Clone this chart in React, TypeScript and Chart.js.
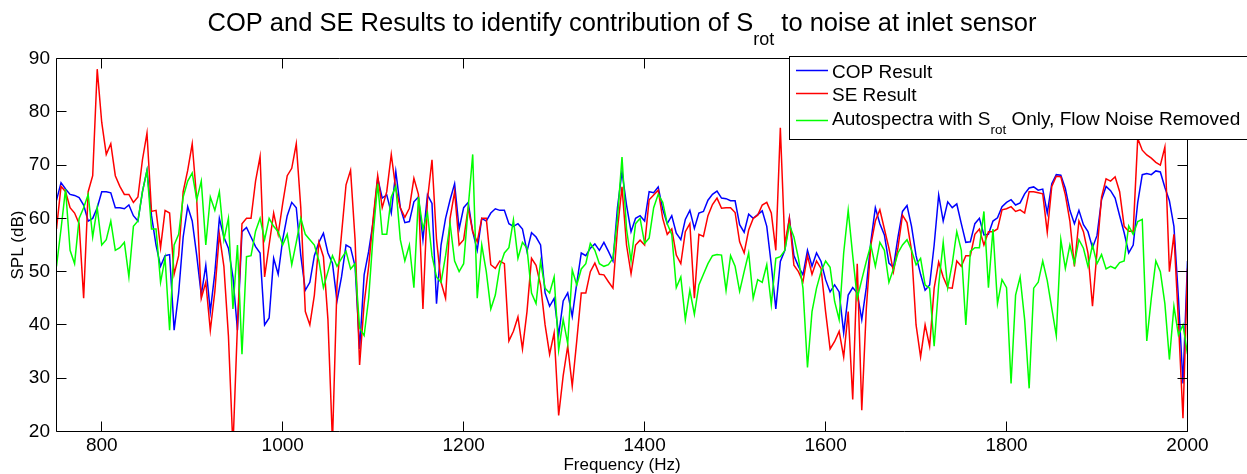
import React, { useEffect, useRef } from "react";
import { Chart, registerables } from "chart.js";

Chart.register(...registerables);

// Frequency sampling of the spectra (Hz)
const FREQ_START = 750;
const FREQ_STEP = 5;

// SPL (dB), one value every 5 Hz from 750 to 2000 Hz
const copResult = [
  63.4, 66.7, 65.5, 64.5, 64.3, 63.9, 62.5, 59.5, 60.0, 62.0,
  65.0, 65.0, 64.8, 62.0, 62.0, 61.8, 62.5, 60.5, 59.5, 65.0,
  69.0, 60.5, 55.0, 51.0, 53.0, 53.2, 39.0, 46.0, 56.5, 62.2,
  59.5, 53.0, 45.6, 51.2, 42.5, 49.8, 60.0, 56.5, 54.4, 49.0,
  39.0, 57.5, 58.3, 56.5, 54.7, 53.5, 40.0, 41.3, 52.5, 49.5,
  56.0, 60.5, 63.0, 62.0, 53.0, 46.5, 48.0, 53.0, 55.5, 57.2,
  53.5, 51.6, 44.5, 49.0, 55.0, 54.5, 51.0, 35.5, 49.4, 53.8,
  59.4, 67.5, 63.8, 64.4, 61.0, 68.8, 62.0, 59.2, 59.4, 63.1,
  64.0, 56.0, 64.4, 62.8, 44.0, 55.0, 60.0, 63.5, 66.5, 58.0,
  62.0, 63.0, 57.5, 54.0, 60.0, 59.5, 61.0, 61.8, 61.5, 61.5,
  59.0, 58.5, 59.0, 58.0, 53.8, 57.3, 56.5, 55.0, 46.0, 43.5,
  45.0, 38.1, 44.5, 46.0, 41.6, 47.8, 53.5, 53.0, 54.4, 55.2,
  54.0, 55.5, 53.8, 52.0, 62.0, 68.8, 62.5, 57.5, 60.0, 60.5,
  59.5, 65.0, 64.8, 65.9, 61.7, 59.0, 60.5, 57.2, 56.0, 59.8,
  61.5, 58.1, 61.0, 61.3, 63.4, 64.5, 65.1, 63.8, 63.7, 63.3,
  63.3, 58.8, 57.4, 60.8, 60.0, 60.7, 61.4, 58.5, 51.3, 43.0,
  51.9, 54.0, 60.0, 53.0, 51.0, 49.4, 54.0, 51.0, 53.5, 51.9,
  48.5, 46.2, 47.5, 46.2, 38.5, 45.6, 47.0, 46.0, 41.0, 47.0,
  55.6, 62.0, 59.0, 56.9, 51.6, 50.8, 56.5, 61.3, 62.4, 58.5,
  53.0, 49.5, 46.5, 47.5, 55.0, 64.4, 59.5, 63.1, 62.0, 62.7,
  59.0, 55.5, 55.6, 59.0, 60.0, 56.9, 57.0, 59.5, 60.1, 62.2,
  63.0, 63.5, 62.5, 62.9, 64.6, 65.7, 65.9, 65.3, 65.5, 61.0,
  66.5, 68.2, 68.1, 65.6, 61.5, 59.0, 61.5, 58.8, 57.5, 54.5,
  56.8, 63.5, 66.0, 65.2, 63.8, 60.5, 57.3, 53.5, 55.0, 63.0,
  68.2, 68.4, 68.2, 68.9, 68.7, 65.8, 63.3, 58.5, 45.0, 29.0,
  52.0,
];

const seResult = [
  58, 66, 65, 62, 61, 59, 45, 65, 68, 88,
  78, 72, 74, 68, 66, 64.5, 64.5, 63, 64, 71,
  76, 61.3, 61.5, 54.5, 61.5, 61, 49.5, 53, 65, 69,
  74, 63.5, 45, 48, 39, 46.3, 57, 51, 38, 17,
  40, 59, 60, 60, 67, 71.6, 49, 55, 61, 57,
  62.8, 68, 69.4, 74, 62, 42.5, 40, 45.6, 55.5, 52.8,
  41, 18, 47.5, 57, 66.3, 69, 56, 32.5, 44, 51,
  60, 68, 62, 65, 72, 65.5, 62, 60.2, 61.9, 67.5,
  64.5, 43, 63.5, 71, 56, 48, 45, 60, 65, 55,
  56, 62, 57.5, 55.6, 60, 60, 51.3, 50.6, 52, 51.5,
  37, 38.8, 41.5, 35.5, 42.5, 52.5, 51.2, 47.5, 40, 34.5,
  38.5, 23, 30.5, 36, 28.5, 37, 46, 46, 50, 51.6,
  49.5, 49.4, 48.1, 46.9, 58, 65.9, 55, 49.6, 55, 55.9,
  55, 63.5, 64.4, 65.3, 60, 57, 58, 53.1, 51.5, 57.5,
  59, 45, 57, 56.6, 60.5, 62.6, 63.8, 61.9, 62, 62,
  61.1, 55.6, 53.5, 57.8, 60, 60.6, 62.5, 63, 61, 54,
  77, 55, 60, 51.2, 50, 48.1, 53, 49.5, 52, 50.6,
  42.5, 35.5, 36.9, 38.8, 34, 42.5, 26, 51.5, 24, 43,
  55, 59.5, 61.6, 58, 54.4, 50, 54.5, 60.6, 59.2, 54,
  40, 34, 40, 36, 46.9, 51.8, 49, 47, 46.9, 52,
  51, 53, 53, 57, 58, 55, 57.5, 57.5, 58, 61.6,
  61.8, 62.2, 61.3, 61.6, 61, 65, 65, 64.8, 64.6, 57.4,
  66, 67.9, 67.8, 64.4, 59.5, 51, 59.5, 57.5, 53.5, 43.5,
  53.8, 64, 67.4, 67, 67.8, 65, 58.5, 57.6, 57.6, 75,
  72.8, 71.9, 71.3, 70.5, 70, 73.4, 50, 57, 40.6, 22.5,
  50.6,
];

const autospectra = [
  51, 58, 65.5, 54, 51.5, 60, 62, 64.5, 56.5, 62,
  55, 56, 59.5, 54, 54.5, 55.5, 49, 58.5, 59.5, 65,
  69, 58, 58, 48, 52.5, 39, 55, 57, 64, 67,
  68.5, 63.5, 67, 55, 64, 61.5, 65, 56, 60, 43,
  55, 34.5, 52.8, 53, 57.6, 60, 56, 60, 58.5, 57.5,
  55, 57, 51.3, 55.5, 60, 57, 56, 55, 52, 47,
  50, 53, 51, 52.5, 53.8, 50.5, 51.5, 39.4, 38, 45,
  57, 66.5, 57, 57, 64, 66, 56, 52, 55, 47,
  64, 58, 61, 53, 49, 48, 53, 59, 52, 50,
  51.5, 62, 72, 45, 55, 50, 43, 45.6, 51, 53.5,
  54.5, 59.7, 52.5, 55.5, 54.4, 46, 44, 51.9, 46.9, 46,
  49, 35.3, 41, 36.5, 50.3, 47.5, 50.5, 51.5, 55.3, 54,
  51.5, 51, 51.3, 52.5, 60, 71.5, 58, 52, 59, 60,
  55.3, 56.3, 62, 64.5, 63, 59, 57, 47, 49, 41,
  46.5, 42, 47.5, 49.5, 51.5, 53, 53.2, 53.1, 46.5, 53,
  51, 46.3, 50, 53.5, 45, 48.5, 48, 51.3, 43.8, 52.5,
  52.8, 54, 58.8, 56.5, 52.5, 46.9, 32, 42.5, 46.9, 50,
  52, 50.8, 44.4, 41, 53.5, 61.5, 53, 45, 48.5, 51.9,
  55, 51, 55.5, 54, 48, 50.5, 53.5, 55, 56, 54,
  51.3, 52.5, 47.5, 46.9, 36, 47.5, 55.5, 47, 51.5, 57.5,
  54, 40, 53.8, 54.5, 54.5, 61.3, 47, 58, 44, 48.5,
  47, 29, 45.6, 49, 41, 28.1, 46.9, 48, 52, 48.3,
  43.1, 38, 56, 50.6, 55, 51.5, 56, 54.4, 51, 55,
  51.5, 53.2, 50.5, 51, 50.6, 51.7, 52, 58.6, 57, 59.4,
  59.8, 37, 45, 52, 50, 44, 33.5, 43.5, 38.1, 40,
  34.5,
];

const xTickValues = [800, 1000, 1200, 1400, 1600, 1800, 2000];
const yTickValues = [20, 30, 40, 50, 60, 70, 80, 90];

const titleMain = "COP and SE Results to identify contribution of S";
const titleSub = "rot";
const titleTail = " to noise at inlet sensor";
const xAxisLabel = "Frequency (Hz)";
const yAxisLabel = "SPL (dB)";

const seriesNames = ["COP Result", "SE Result", "Autospectra with S"];
const legendSub = "rot";
const legendTail = " Only, Flow Noise Removed";
const seriesColors = ["#0000ff", "#ff0000", "#00ff00"];

const FONT = "'Liberation Sans', Arial, Helvetica, sans-serif";
const TICK_LEN = 10;

const decorPlugin = {
  id: "matlabDecor",
  beforeDraw(chart: any) {
    const { ctx, width, height } = chart;
    ctx.save();
    ctx.fillStyle = "#ffffff";
    ctx.fillRect(0, 0, width, height);
    ctx.restore();
  },
  afterDatasetsDraw(chart: any) {
    const { ctx, chartArea: a, scales } = chart;
    ctx.save();
    ctx.strokeStyle = "#000000";
    ctx.lineWidth = 1;
    ctx.beginPath();
    const L = Math.floor(a.left) + 0.5;
    const R = Math.floor(a.right) + 0.5;
    const T = Math.floor(a.top) + 0.5;
    const B = Math.floor(a.bottom) + 0.5;
    ctx.rect(L, T, R - L, B - T);
    for (const v of xTickValues) {
      const px = Math.floor(scales.x.getPixelForValue(v)) + 0.5;
      ctx.moveTo(px, B);
      ctx.lineTo(px, B - TICK_LEN);
      ctx.moveTo(px, T);
      ctx.lineTo(px, T + TICK_LEN);
    }
    for (const v of yTickValues) {
      const py = Math.floor(scales.y.getPixelForValue(v)) + 0.5;
      ctx.moveTo(L, py);
      ctx.lineTo(L + TICK_LEN, py);
      ctx.moveTo(R, py);
      ctx.lineTo(R - TICK_LEN, py);
    }
    ctx.stroke();
    ctx.restore();
  },
  afterDraw(chart: any) {
    const { ctx, chartArea: a } = chart;
    ctx.save();
    ctx.fillStyle = "#000000";
    ctx.textBaseline = "alphabetic";
    ctx.textAlign = "left";

    // Title with subscript
    const mainFont = `25.5px ${FONT}`;
    const subFont = `18px ${FONT}`;
    ctx.font = mainFont;
    const w1 = ctx.measureText(titleMain).width;
    const w3 = ctx.measureText(titleTail).width;
    ctx.font = subFont;
    const w2 = ctx.measureText(titleSub).width;
    const cx = (a.left + a.right) / 2;
    const x0 = cx - (w1 + w2 + w3) / 2;
    ctx.font = mainFont;
    ctx.fillText(titleMain, x0, 31);
    ctx.font = subFont;
    ctx.fillText(titleSub, x0 + w1, 45);
    ctx.font = mainFont;
    ctx.fillText(titleTail, x0 + w1 + w2, 31);

    // Axis labels
    ctx.font = `17px ${FONT}`;
    ctx.textAlign = "center";
    ctx.textBaseline = "middle";
    ctx.fillText(xAxisLabel, cx, 465);
    ctx.save();
    ctx.translate(18, (a.top + a.bottom) / 2);
    ctx.rotate(-Math.PI / 2);
    ctx.fillText(yAxisLabel, 0, 0);
    ctx.restore();

    // Legend box (MATLAB-style, opaque, over the axes)
    ctx.fillStyle = "#ffffff";
    ctx.strokeStyle = "#000000";
    ctx.lineWidth = 1;
    ctx.fillRect(789.5, 56.5, 520, 83);
    ctx.strokeRect(789.5, 56.5, 520, 83);

    const lineY = [70.5, 93.5, 120.5];
    const baseY = [77.5, 100.5, 125];
    ctx.textAlign = "left";
    ctx.textBaseline = "alphabetic";
    const legFont = `19px ${FONT}`;
    const legSubFont = `13.5px ${FONT}`;
    for (let i = 0; i < 3; i++) {
      ctx.strokeStyle = seriesColors[i];
      ctx.lineWidth = 1.5;
      ctx.beginPath();
      ctx.moveTo(796, lineY[i]);
      ctx.lineTo(828, lineY[i]);
      ctx.stroke();
      ctx.fillStyle = "#000000";
      ctx.font = legFont;
      ctx.fillText(seriesNames[i], 832, baseY[i]);
      if (i === 2) {
        const wa = ctx.measureText(seriesNames[i]).width;
        ctx.font = legSubFont;
        ctx.fillText(legendSub, 832 + wa, 134);
        const wb = ctx.measureText(legendSub).width;
        ctx.font = legFont;
        ctx.fillText(legendTail, 832 + wa + wb, baseY[i]);
      }
    }
    ctx.restore();
  },
};

export default function App() {
  const canvasRef = useRef<HTMLCanvasElement>(null);

  useEffect(() => {
    const canvas = canvasRef.current;
    if (!canvas) return;
    const freq = copResult.map((_, i) => FREQ_START + i * FREQ_STEP);
    const toPoints = (arr: number[]) => arr.map((y, i) => ({ x: freq[i], y }));

    const tickFont = { family: FONT, size: 19 };

    const chart = new Chart(canvas, {
      type: "line",
      data: {
        datasets: [
          {
            label: seriesNames[0],
            data: toPoints(copResult),
            borderColor: seriesColors[0],
            backgroundColor: seriesColors[0],
            order: 3,
          },
          {
            label: seriesNames[1],
            data: toPoints(seResult),
            borderColor: seriesColors[1],
            backgroundColor: seriesColors[1],
            order: 2,
          },
          {
            label: seriesNames[2] + legendSub + legendTail,
            data: toPoints(autospectra),
            borderColor: seriesColors[2],
            backgroundColor: seriesColors[2],
            order: 1,
          },
        ],
      },
      options: {
        responsive: false,
        animation: false,
        devicePixelRatio: 1,
        events: [],
        elements: {
          line: { borderWidth: 1.5, tension: 0, fill: false },
          point: { radius: 0, hoverRadius: 0 },
        },
        layout: { padding: { top: 58.5, right: 59.5, left: 0, bottom: 0 } },
        plugins: {
          legend: { display: false },
          title: { display: false },
          tooltip: { enabled: false },
        },
        scales: {
          x: {
            type: "linear",
            min: 750,
            max: 2000,
            afterBuildTicks: (s: any) => {
              s.ticks = xTickValues.map((v) => ({ value: v }));
            },
            afterFit: (s: any) => {
              s.height = 42.5;
            },
            grid: { display: false, drawTicks: false },
            border: { display: false },
            ticks: {
              padding: 3,
              autoSkip: false,
              maxRotation: 0,
              minRotation: 0,
              color: "#000000",
              font: tickFont,
              callback: (v: any) => String(v),
            },
          },
          y: {
            type: "linear",
            min: 20,
            max: 90,
            afterBuildTicks: (s: any) => {
              s.ticks = yTickValues.map((v) => ({ value: v }));
            },
            afterFit: (s: any) => {
              s.width = 56.5;
            },
            grid: { display: false, drawTicks: false },
            border: { display: false },
            ticks: {
              padding: 6.5,
              autoSkip: false,
              color: "#000000",
              font: tickFont,
              callback: (v: any) => String(v),
            },
          },
        },
      },
      plugins: [decorPlugin],
    });

    return () => {
      chart.destroy();
    };
  }, []);

  return (
    <div
      style={{
        position: "fixed",
        left: 0,
        top: 0,
        width: 1247,
        height: 474,
        background: "#ffffff",
      }}
    >
      <canvas
        ref={canvasRef}
        width={1247}
        height={474}
        style={{ display: "block", width: 1247, height: 474 }}
      />
    </div>
  );
}
